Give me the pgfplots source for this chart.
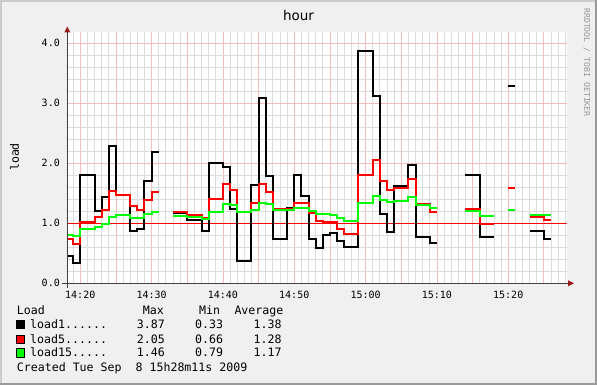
\documentclass[border=0pt]{standalone}
\usepackage{pgfplots}
\pgfplotsset{compat=1.18}
\usepackage{fontspec}
\setmainfont{DejaVu Sans}
\newfontfamily\mono{DejaVu Sans Mono}
\definecolor{bgc}{HTML}{F0F0F0}
\definecolor{shadea}{HTML}{CBCBCB}
\definecolor{shadeb}{HTML}{999999}
\definecolor{mgrid}{HTML}{F4BDBD}
\definecolor{mingrid}{HTML}{DCDCDC}
\definecolor{axisc}{HTML}{404040}
\definecolor{arrowc}{HTML}{9B1B1B}
\definecolor{lgreen}{HTML}{00FF00}
\definecolor{lred}{HTML}{FF0000}
\begin{document}
\begin{tikzpicture}
\useasboundingbox (0,0) rectangle (597pt,385pt);
\fill[bgc] (0,0) rectangle (597pt,385pt);
\fill[shadea] (0,0) rectangle (2pt,385pt);
\fill[shadea] (0,383pt) rectangle (597pt,385pt);
\fill[shadeb] (0,0) rectangle (597pt,2pt);
\fill[shadeb] (595pt,0) rectangle (597pt,385pt);
\begin{axis}[
  at={(67.3pt,101.7pt)}, anchor=south west,
  scale only axis, width=499.3pt, height=251.6pt,
  xmin=18.183, xmax=88.183, ymin=0, ymax=4.19,
  axis background/.style={fill=white},
  axis line style={draw=none},
  xtick={20,30,40,50,60,70,80},
  xticklabels={14:20,14:30,14:40,14:50,15:00,15:10,15:20},
  extra x ticks={25,35,45,55,65,75,85},
  extra x tick labels={},
  extra x tick style={grid=major},
  minor xtick={19,20,...,88},
  ytick={0,1,2,3,4},
  yticklabels={0.0,1.0,2.0,3.0,4.0},
  minor ytick={0.2,0.4,0.6,0.8,1.2,1.4,1.6,1.8,2.2,2.4,2.6,2.8,3.2,3.4,3.6,3.8,4.2},
  grid=both,
  major grid style={draw=mgrid, line width=0.8pt},
  minor grid style={draw=mingrid, line width=0.8pt},
  major tick length=0pt, minor tick length=0pt,
  tick label style={font=\mono\fontsize{10}{12}\selectfont, text=black},
  xticklabel style={anchor=base, inner sep=0pt, yshift=-15.2pt},
  yticklabel style={anchor=east, inner sep=0pt, xshift=-7.3pt},
  unbounded coords=jump,
  clip=true,
]
\addplot[lred, line width=1pt, forget plot] coordinates {(18.183,1) (88.183,1)};
\addplot[black, line width=2pt, const plot mark left, line join=miter] coordinates {
(18.183,0.46) (19,0.33) (20,1.80) (22,1.20) (23,1.43) (24,2.29) (25,1.47) (27,0.87) (28,0.90) (29,1.70) (30,2.18) (31,2.18) (32,nan)
(33,1.17) (35,1.05) (37,0.87) (38,2.01) (40,1.94) (41,1.23) (42,0.37) (44,1.63) (45,3.08) (46,1.79) (47,0.73) (49,1.25) (50,1.80) (51,1.46) (52,0.74) (53,0.58) (54,0.80) (55,0.83) (56,0.70) (57,0.60) (59,3.87) (61,3.12) (62,1.16) (63,0.85) (64,1.62) (66,1.97) (67,0.77) (69,0.67) (70,0.67) (72,nan)
(74,1.81) (76,0.77) (78,0.77) (79,nan)
(80,3.28) (81,3.28) (82,nan)
(83,0.87) (85,0.74) (86,0.74)
};
\addplot[lred, line width=2pt, const plot mark left, line join=miter] coordinates {
(18.183,0.74) (19,0.66) (20,1.02) (22,1.10) (23,1.22) (24,1.53) (25,1.47) (27,1.28) (28,1.22) (29,1.38) (30,1.52) (31,1.52) (32,nan)
(33,1.18) (35,1.14) (37,1.09) (38,1.40) (40,1.66) (41,1.56) (42,1.18) (44,1.33) (45,1.66) (46,1.52) (47,1.23) (50,1.34) (52,1.17) (53,1.04) (54,1.02) (56,0.91) (57,0.82) (59,1.80) (61,2.05) (62,1.71) (63,1.55) (64,1.59) (66,1.74) (67,1.32) (69,1.18) (70,1.18) (72,nan)
(74,1.23) (76,0.98) (78,0.98) (79,nan)
(80,1.58) (81,1.58) (82,nan)
(83,1.11) (85,1.06) (86,1.06)
};
\addplot[lgreen, line width=2pt, const plot mark left, line join=miter] coordinates {
(18.183,0.81) (19,0.79) (20,0.90) (22,0.94) (23,0.98) (24,1.11) (25,1.14) (27,1.09) (28,1.08) (29,1.15) (30,1.19) (31,1.19) (32,nan)
(33,1.12) (35,1.10) (37,1.07) (38,1.19) (40,1.32) (41,1.30) (42,1.18) (44,1.22) (45,1.34) (46,1.32) (47,1.22) (50,1.26) (52,1.21) (53,1.15) (55,1.13) (56,1.09) (57,1.03) (59,1.34) (61,1.46) (62,1.39) (63,1.35) (64,1.37) (66,1.43) (67,1.31) (69,1.26) (70,1.26) (72,nan)
(74,1.21) (76,1.12) (78,1.12) (79,nan)
(80,1.22) (81,1.22) (82,nan)
(83,1.14) (85,1.13) (86,1.13)
};
\end{axis}
% axes
\draw[axisc, line width=1pt] (62pt,101.7pt) -- (569pt,101.7pt);
\fill[arrowc] (574pt,101.7pt) -- (568pt,98.7pt) -- (568pt,104.7pt) -- cycle;
\draw[axisc, line width=1pt] (67.3pt,97pt) -- (67.3pt,354pt);
\fill[arrowc] (67.3pt,358.5pt) -- (64.3pt,352.5pt) -- (70.3pt,352.5pt) -- cycle;
% title, labels
\node[anchor=base, inner sep=0pt, font=\fontsize{13.5}{16}\selectfont] at (298.5pt,364.3pt) {hour};
\node[rotate=90, anchor=base, inner sep=0pt, font=\mono\fontsize{11.6}{14}\selectfont] at (18.8pt,228pt) {load};
\node[rotate=-90, anchor=base west, inner sep=0pt, text=shadeb, font=\mono\fontsize{8.2}{10}\selectfont] at (584pt,377pt) {RRDTOOL / TOBI OETIKER};
% legend
\begin{scope}[every node/.style={inner sep=0pt, font=\mono\fontsize{11.6}{14}\selectfont}]
\node[anchor=base west] at (16.7pt,70pt) {Load};
\node[anchor=base west] at (142.7pt,70pt) {Max};
\node[anchor=base west] at (199pt,70pt) {Min};
\node[anchor=base west] at (234.3pt,70pt) {Average};
\filldraw[fill=black, draw=black, line width=0.8pt] (16.5pt,56.3pt) rectangle (24.8pt,64.6pt);
\filldraw[fill=lred, draw=black, line width=0.8pt] (16.5pt,41.7pt) rectangle (24.8pt,50pt);
\filldraw[fill=lgreen, draw=black, line width=0.8pt] (16.5pt,28pt) rectangle (24.8pt,36.3pt);
\node[anchor=base west] at (30pt,56.3pt) {load1......};
\node[anchor=base west] at (30pt,41.7pt) {load5......};
\node[anchor=base west] at (30pt,28pt) {load15.....};
\node[anchor=base east] at (165pt,56.3pt) {3.87};
\node[anchor=base east] at (223.3pt,56.3pt) {0.33};
\node[anchor=base east] at (281.7pt,56.3pt) {1.38};
\node[anchor=base east] at (165pt,41.7pt) {2.05};
\node[anchor=base east] at (223.3pt,41.7pt) {0.66};
\node[anchor=base east] at (281.7pt,41.7pt) {1.28};
\node[anchor=base east] at (165pt,28pt) {1.46};
\node[anchor=base east] at (223.3pt,28pt) {0.79};
\node[anchor=base east] at (281.7pt,28pt) {1.17};
\node[anchor=base west] at (16.7pt,13.3pt) {Created Tue Sep\ \ 8 15h28m11s 2009};
\end{scope}
\end{tikzpicture}
\end{document}
